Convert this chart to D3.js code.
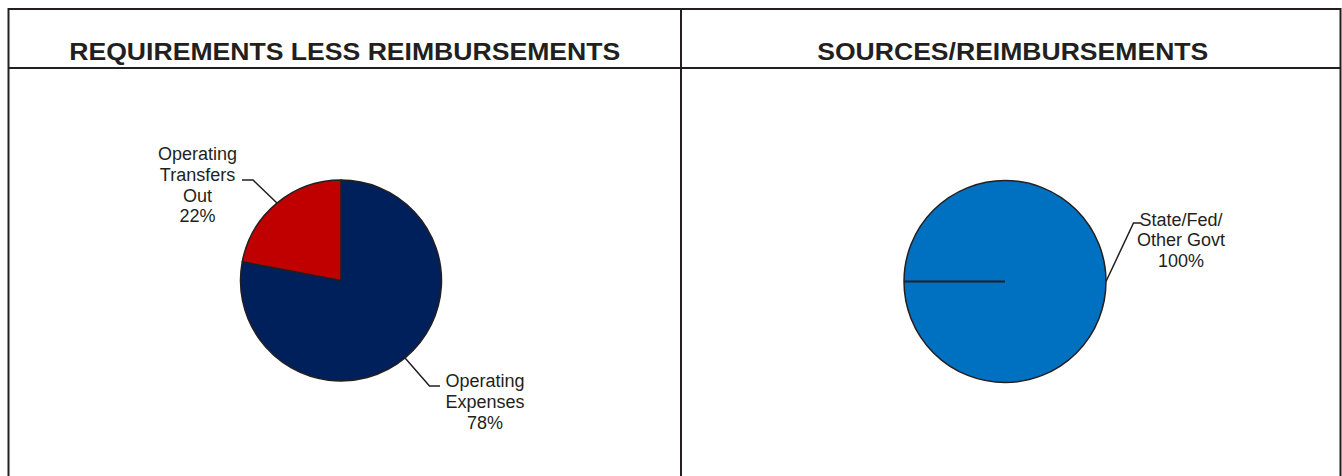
<!DOCTYPE html>
<html><head><meta charset="utf-8">
<script src="https://cdn.jsdelivr.net/npm/d3@7"></script>
<style>
html,body{margin:0;padding:0;background:#fff;}
svg{display:block;}
text{font-family:"Liberation Sans",Arial,sans-serif;fill:#231F20;}
</style></head><body>
<div id="chart"></div>
<script>
// ---- data ----
const reqTitle = "REQUIREMENTS LESS REIMBURSEMENTS";
const reqCategories = ["Operating Expenses", "Operating Transfers Out"];
const reqLabelLines = [["Operating", "Expenses", "78%"], ["Operating", "Transfers", "Out", "22%"]];
const reqValues = [78, 22];
const reqColors = ["#00205B", "#C00000"];

const srcTitle = "SOURCES/REIMBURSEMENTS";
const srcCategories = ["State/Fed/Other Govt"];
const srcLabelLines = [["State/Fed/", "Other Govt", "100%"]];
const srcValues = [100];
const srcColors = ["#0070C0"];

// ---- layout ----
const W = 1342, H = 476;
const svg = d3.select("#chart").append("svg").attr("width", W).attr("height", H);
const ink = "#231F20";

const fLeft = 8.5, fTop = 9, headerBottom = 68, divider = 681, fRight = 1340.5;
const frame = svg.append("g").attr("fill", "none").attr("stroke", ink).attr("stroke-width", 2);
frame.append("path").attr("d", `M${fLeft},${H + 5}V${fTop}H${fRight}V${H + 5}`);
frame.append("line").attr("x1", fLeft).attr("x2", fRight).attr("y1", headerBottom).attr("y2", headerBottom);
frame.append("line").attr("x1", divider).attr("x2", divider).attr("y1", fTop).attr("y2", H + 5);

function title(txt, cx, width) {
  svg.append("text").attr("x", cx).attr("y", 60).attr("text-anchor", "middle")
    .style("font-size", "23px").style("font-weight", "bold").text(txt)
    .attr("textLength", width).attr("lengthAdjust", "spacingAndGlyphs");
}
title(reqTitle, (fLeft + divider) / 2, 551);
title(srcTitle, (divider + fRight) / 2 + 2, 391);

function drawPie(cfg) {
  const g = svg.append("g").attr("transform", `translate(${cfg.cx},${cfg.cy})`);
  const pie = d3.pie().sort(null).startAngle(cfg.start).endAngle(cfg.start + 2 * Math.PI);
  const arcs = pie(cfg.values);
  const arc = d3.arc().innerRadius(0).outerRadius(cfg.r);
  g.selectAll("path.slice").data(arcs).join("path").attr("class", "slice")
    .attr("d", arc).attr("fill", (d, i) => cfg.colors[i])
    .attr("stroke", ink).attr("stroke-width", 1.5).attr("stroke-linejoin", "round");
  if (arcs.length === 1) {
    const a = arcs[0].startAngle;
    g.append("line").attr("x1", 0).attr("y1", 0)
      .attr("x2", cfg.r * Math.sin(a)).attr("y2", -cfg.r * Math.cos(a))
      .attr("stroke", ink).attr("stroke-width", 2);
  }
  arcs.forEach((d, i) => {
    const m = (d.startAngle + d.endAngle) / 2;
    const p0 = [cfg.r * Math.sin(m), -cfg.r * Math.cos(m)];
    const L = cfg.labels[i];
    const e = [L.elbow[0] - cfg.cx, L.elbow[1] - cfg.cy];
    const p2 = [L.end[0] - cfg.cx, L.end[1] - cfg.cy];
    g.append("polyline").attr("points", [p0, e, p2].map(p => p.join(",")).join(" "))
      .attr("fill", "none").attr("stroke", ink).attr("stroke-width", 1.5);
    const t = svg.append("text").attr("text-anchor", "middle").style("font-size", "18px");
    cfg.lines[i].forEach((s, k) => {
      t.append("tspan").attr("x", L.tx).attr("y", L.ty + k * 20.8).text(s);
    });
  });
}

drawPie({
  cx: 341, cy: 280.5, r: 100.5, start: 0,
  values: reqValues, colors: reqColors, lines: reqLabelLines,
  labels: [
    { elbow: [429.5, 386], end: [440, 386], tx: 485, ty: 387.3 },
    { elbow: [253, 180], end: [242, 180], tx: 197.5, ty: 160 }
  ]
});

drawPie({
  cx: 1005, cy: 281.5, r: 101, start: -Math.PI / 2,
  values: srcValues, colors: srcColors, lines: srcLabelLines,
  labels: [
    { elbow: [1133.5, 223], end: [1141, 223], tx: 1181, ty: 225.5 }
  ]
});
</script>
</body></html>
